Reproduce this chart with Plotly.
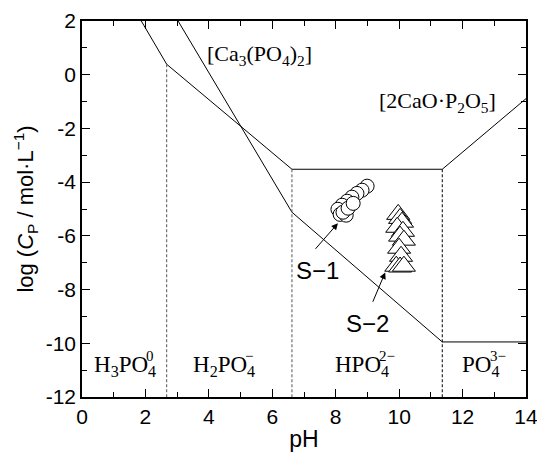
import plotly.graph_objects as go

# Solubility boundary polylines (pH, log C_P)
upper_pH = [1.87, 2.67, 6.62, 11.36, 14.0]
upper_log = [2.0, 0.39, -3.52, -3.52, -0.89]
lower_pH = [3.03, 6.62, 11.36, 14.0]
lower_log = [2.0, -5.12, -9.95, -9.95]

# Species predominance boundaries (pH, top of the dashed line)
split_pH = [2.67, 6.62, 11.36]
split_top = [0.39, -3.52, -3.52]

# Measured samples
s1_pH = [8.99, 8.83, 8.67, 8.51, 8.36, 8.20, 8.07, 8.14, 8.33, 8.23, 8.39, 8.55]
s1_log = [-4.15, -4.30, -4.42, -4.56, -4.71, -4.86, -5.01, -5.20, -5.23, -5.12, -4.97, -4.79]
s2_pH = [9.97, 10.03, 10.09, 9.94, 10.12, 10.03, 10.15, 10.00, 10.06, 9.91, 10.03, 10.15]
s2_log = [-5.20, -5.35, -5.49, -5.68, -5.83, -6.01, -6.16, -6.46, -6.76, -7.13, -7.16, -7.13]

# Species labels: body with subscript, charge stacked above the subscript
species_body = ["H<sub>3</sub>PO<sub>4</sub>", "H<sub>2</sub>PO<sub>4</sub>",
                "HPO<sub>4</sub>", "PO<sub>4</sub>"]
species_charge = ["0", "−", "2−", "3−"]
species_left_pH = [0.30, 3.45, 7.90, 11.93]
species_log = [-10.85, -10.85, -10.85, -10.85]
charge_shift = [52, 52, 44, 28]

phase_text = ["[Ca<sub>3</sub>(PO<sub>4</sub>)<sub>2</sub>]", "[2CaO·P<sub>2</sub>O<sub>5</sub>]"]
phase_pH = [5.61, 11.2]
phase_log = [0.72, -1.0]

y_ticks = [-12, -10, -8, -6, -4, -2, 0, 2]
y_ticktext = [str(v) for v in y_ticks]

serif = "Liberation Serif, Times New Roman, serif"
sans = "Liberation Sans, Arial, sans-serif"

fig = go.Figure()
fig.add_trace(go.Scatter(x=upper_pH, y=upper_log, mode="lines",
                         line=dict(color="black", width=1)))
fig.add_trace(go.Scatter(x=lower_pH, y=lower_log, mode="lines",
                         line=dict(color="black", width=1)))
for i, (px, top) in enumerate(zip(split_pH, split_top)):
    fig.add_trace(go.Scatter(x=[px, px], y=[top, -12], mode="lines",
                             line=dict(color="#555" if i < 2 else "black", width=1,
                                       dash="3px,2px")))
fig.add_trace(go.Scatter(x=s1_pH, y=s1_log, mode="markers",
                         marker=dict(symbol="circle", size=14, color="white",
                                     line=dict(color="black", width=1))))
fig.add_trace(go.Scatter(x=s2_pH, y=s2_log, mode="markers",
                         marker=dict(symbol="triangle-up", size=20, color="white",
                                     line=dict(color="black", width=1))))

for body, charge, x, y, sh in zip(species_body, species_charge, species_left_pH,
                                  species_log, charge_shift):
    fig.add_annotation(x=x, y=y, text=body, showarrow=False, xanchor="left",
                       font=dict(family=serif, size=23, color="black"))
    fig.add_annotation(x=x, y=y, text=charge, showarrow=False, xanchor="left",
                       xshift=sh, yshift=10,
                       font=dict(family=serif, size=15, color="black"))
for t, x, y in zip(phase_text, phase_pH, phase_log):
    fig.add_annotation(x=x, y=y, text=t, showarrow=False,
                       font=dict(family=serif, size=22, color="black"))

# Sample labels and pointer arrows
fig.add_annotation(x=7.44, y=-7.28, text="S−1", showarrow=False,
                   font=dict(family=sans, size=24, color="black"))
fig.add_annotation(x=8.07, y=-5.53, ax=7.32, ay=-6.54, axref="x", ayref="y",
                   text="", showarrow=True, arrowhead=2, arrowsize=1.3,
                   arrowwidth=1, arrowcolor="black")
fig.add_annotation(x=8.99, y=-9.25, text="S−2", showarrow=False,
                   font=dict(family=sans, size=24, color="black"))
fig.add_annotation(x=9.56, y=-7.36, ax=9.15, ay=-8.51, axref="x", ayref="y",
                   text="", showarrow=True, arrowhead=2, arrowsize=1.3,
                   arrowwidth=1, arrowcolor="black")

axis_common = dict(showgrid=False, zeroline=False, showline=True, linecolor="black",
                   linewidth=1.5, mirror="allticks", ticks="inside", ticklen=8,
                   tickwidth=1, tickcolor="black", automargin=False,
                   ticklabeloverflow="allow",
                   tickfont=dict(family=sans, size=21, color="black"),
                   minor=dict(ticks="inside", ticklen=5, dtick=1, tickcolor="black"))

fig.update_xaxes(range=[0, 14], dtick=2, tick0=0,
                 title=dict(text="pH", font=dict(family=sans, size=23, color="black"),
                            standoff=4),
                 **axis_common)
fig.update_yaxes(range=[-12, 2], tickmode="array", tickvals=y_ticks, ticktext=y_ticktext,
                 title=dict(text="log (<i>C</i><sub>P</sub> / mol·L<sup>−1</sup>)",
                            font=dict(family=sans, size=22, color="black"), standoff=6),
                 **axis_common)

fig.update_layout(width=537, height=453, showlegend=False,
                  plot_bgcolor="white", paper_bgcolor="white",
                  margin=dict(l=82, r=11, t=21, b=56))

fig.write_html("out.html")
